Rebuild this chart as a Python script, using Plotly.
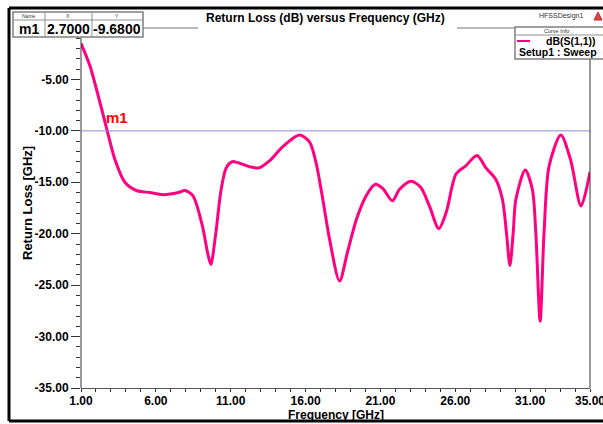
import plotly.graph_objects as go

# ---- data ----
freq_ghz = [1.0, 1.6, 2.15, 2.7, 3.27, 3.93, 4.7, 5.6, 6.47, 7.5, 7.93, 8.47, 9.1, 9.45, 9.67,
            10.0, 10.35, 10.7, 11.1, 11.5, 12.3, 12.9, 13.6, 14.5, 15.6, 16.27, 16.7, 17.15,
            17.6, 18.27, 18.8, 19.4, 20.05, 20.67, 21.15, 21.8, 22.27, 23.05, 23.7, 24.27,
            24.9, 25.4, 26.05, 26.7, 27.45, 28.05, 28.7, 29.15, 29.42, 29.65, 29.87, 30.05,
            30.67, 31.15, 31.38, 31.67, 31.93, 32.27, 33.05, 33.7, 34.4, 35.0]
s11_db = [-1.5, -3.7, -6.6, -9.7, -12.8, -15.0, -15.8, -16.0, -16.2, -16.0, -15.8, -16.3, -19.2, -21.8, -23.0,
          -20.0, -15.8, -13.6, -13.0, -13.1, -13.5, -13.6, -12.9, -11.5, -10.4, -11.1, -13.1, -16.65,
          -20.5, -24.6, -21.8, -18.6, -16.3, -15.2, -15.6, -16.8, -15.7, -14.9, -15.5, -17.3,
          -19.5, -17.9, -14.2, -13.4, -12.4, -13.6, -14.7, -16.65, -19.9, -23.1, -19.9, -16.65,
          -13.8, -15.7, -19.9, -28.5, -19.9, -13.4, -10.4, -12.8, -17.3, -14.0]
x_ticks = [1, 6, 11, 16, 21, 26, 31, 35]
x_tick_text = ["1.00", "6.00", "11.00", "16.00", "21.00", "26.00", "31.00", "35.00"]
y_ticks = [-35, -30, -25, -20, -15, -10, -5]
y_tick_text = ["-35.00", "-30.00", "-25.00", "-20.00", "-15.00", "-10.00", "-5.00"]
ref_level = -10.0
marker_name, marker_x, marker_y = "m1", 2.7, -9.68

W, H = 603, 424
L, R, T, B = 81, 590, 28, 388
FONT = "Liberation Sans, Arial, sans-serif"


def px(p):
    return (p - L) / (R - L)


def py(p):
    return (B - p) / (B - T)


fig = go.Figure()
fig.add_trace(go.Scatter(x=freq_ghz, y=s11_db, mode="lines",
                         line=dict(color="#FF0080", width=3, shape="spline", smoothing=0.8),
                         showlegend=False, hoverinfo="x+y"))
fig.add_trace(go.Scatter(x=[freq_ghz[0], freq_ghz[-1]], y=[ref_level, ref_level], mode="lines",
                         line=dict(color="#8C8CD8", width=1), showlegend=False))

shapes = []
annos = []


def line(x0, y0, x1, y1, color="#666666", width=1):
    shapes.append(dict(type="line", xref="paper", yref="paper", x0=px(x0), y0=py(y0),
                       x1=px(x1), y1=py(y1), line=dict(color=color, width=width)))


def rect(x0, y0, x1, y1, color="#808080", width=1, fill="white"):
    shapes.append(dict(type="rect", xref="paper", yref="paper", x0=px(x0), y0=py(y0),
                       x1=px(x1), y1=py(y1), line=dict(color=color, width=width), fillcolor=fill))


def text(x, y, s, size=12, bold=True, color="black", xanchor="center", angle=0):
    annos.append(dict(xref="paper", yref="paper", x=px(x), y=py(y), text=("<b>%s</b>" % s) if bold else s,
                      showarrow=False, xanchor=xanchor, yanchor="middle", textangle=angle,
                      font=dict(family=FONT, size=size, color=color)))


# outer frame (black)
line(9, 8, 603, 8, "black", 3)
line(9, 8, 9, 421, "black", 3)
line(9, 421, 603, 421, "black", 3)

# plot frame pieces
line(81, 37, 81, 388, "#333333", 1)
line(590, 59, 590, 388, "#333333", 1)
line(143, 28, 198, 28, "#777777", 1)
line(457, 28, 515, 28, "#777777", 1)

# marker table
rect(13, 12, 143, 37, "#808080", 1.5)
line(13, 20, 143, 20, "#909090", 1)
line(45, 12, 45, 37, "#909090", 1)
line(92, 12, 92, 37, "#909090", 1)
text(29, 16, "Name", 5, False, "#333333")
text(68, 16, "X", 5, False, "#333333")
text(117, 16, "Y", 5, False, "#333333")
text(29, 29, marker_name, 14)
text(68, 29, "%.4f" % marker_x, 14)
text(117, 29, "%.4f" % marker_y, 14)

# title
text(325, 18, "Return Loss (dB) versus Frequency (GHz)", 12)
text(561, 16, "HFSSDesign1", 7, False, "#333333")
shapes.append(dict(type="path", xref="paper", yref="paper",
                   path="M %f %f L %f %f L %f %f Z" % (px(594), py(20), px(598), py(12), px(602), py(20)),
                   fillcolor="#E04040", line=dict(color="#C03030", width=1)))

# legend box
rect(515, 27, 606, 59, "#808080", 1.5)
line(515, 35, 606, 35, "#909090", 1)
text(556, 31, "Curve Info", 5.5, False, "#333333")
line(517, 41, 530, 41, "#FF0080", 2)
text(571, 41, "dB(S(1,1))", 10.5)
text(517, 52, "Setup1 : Sweep", 10.5, xanchor="left")

# marker label
text(117, 117, marker_name, 15, True, "#FF0000")

# axis titles
text(336, 415, "Frequency [GHz]", 12)
text(27, 203, "Return Loss [GHz]", 13, angle=-90)

fig.update_layout(
    width=W, height=H,
    margin=dict(l=L, r=W - R, t=T, b=H - B, autoexpand=False),
    paper_bgcolor="white", plot_bgcolor="white",
    shapes=shapes, annotations=annos,
    font=dict(family=FONT, size=12, color="black"),
    xaxis=dict(range=[1, 35], showgrid=False, zeroline=False, tickmode="array", tickvals=x_ticks,
               ticktext=["<b>%s</b>" % t for t in x_tick_text], ticks="outside", ticklen=2,
               tickcolor="#333333", showline=True, linecolor="#555555", linewidth=1,
               tickfont=dict(family=FONT, size=12), ticklabeloverflow="allow", automargin=False,
               minor=dict(dtick=1, tick0=1, ticks="outside", ticklen=3, tickcolor="#333333")),
    yaxis=dict(range=[-35, 0], showgrid=False, zeroline=False, tickmode="array", tickvals=y_ticks,
               ticktext=["<b>%s</b>" % t for t in y_tick_text], ticks="outside", ticklen=9,
               tickcolor="#333333", showline=False, automargin=False,
               tickfont=dict(family=FONT, size=12),
               minor=dict(dtick=1, tick0=0, ticks="outside", ticklen=4, tickcolor="#333333")),
)

fig.write_html("out.html")
